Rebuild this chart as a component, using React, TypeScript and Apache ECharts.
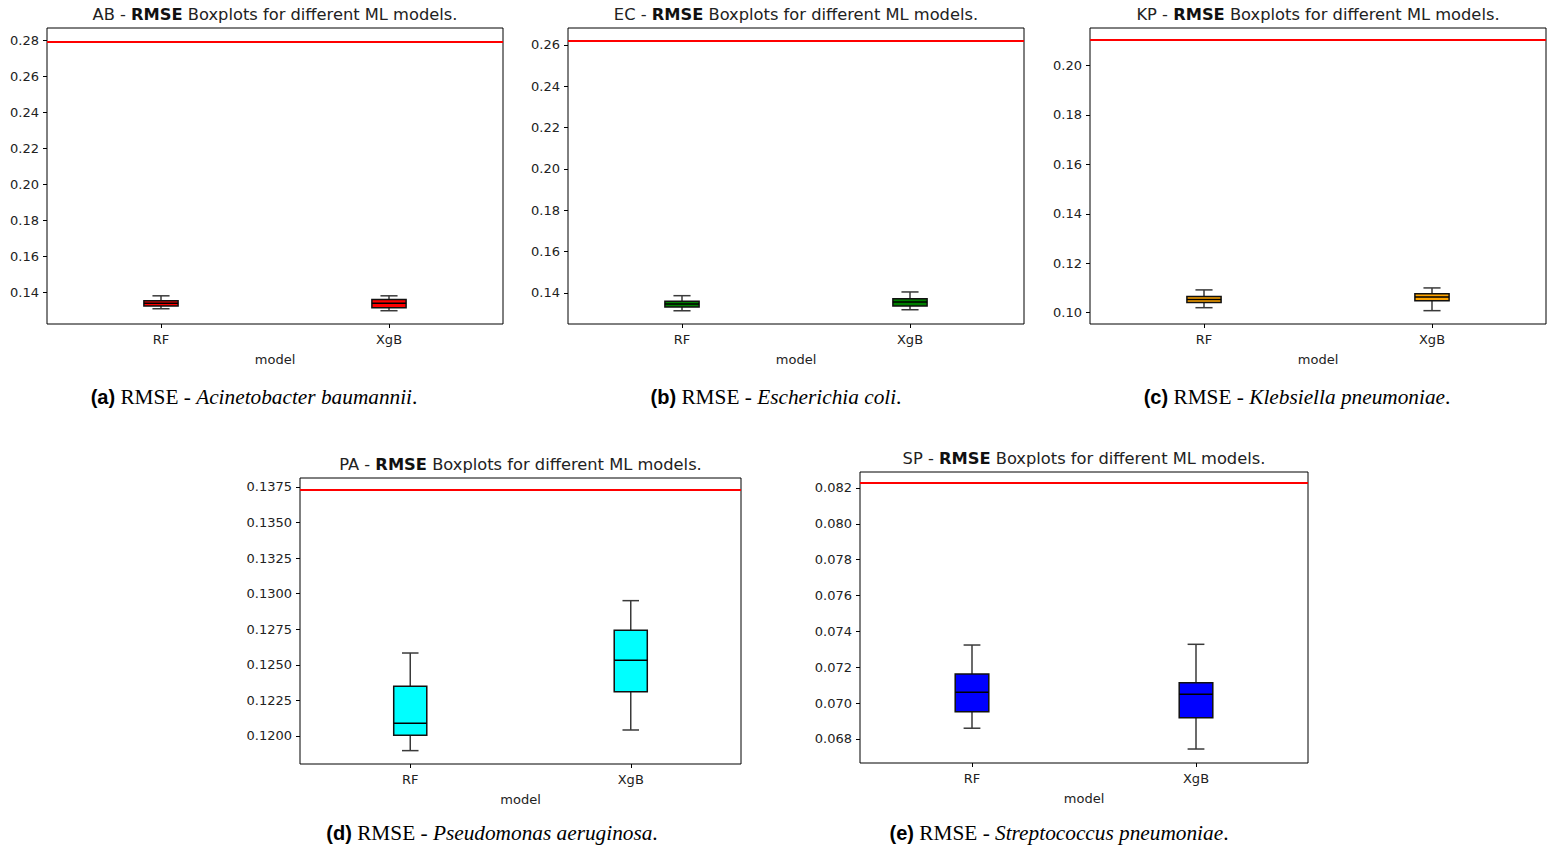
import React, { useEffect, useRef } from "react";
import * as echarts from "echarts";

// ---------- data ----------
const categories = ["RF", "XgB"];

const codes = ["AB", "EC", "KP", "PA", "SP"];
const captionLetters = ["(a)", "(b)", "(c)", "(d)", "(e)"];
const species = [
  "Acinetobacter baumannii",
  "Escherichia coli",
  "Klebsiella pneumoniae",
  "Pseudomonas aeruginosa",
  "Streptococcus pneumoniae",
];
const boxColors = ["#ff0000", "#008000", "#ffa500", "#00ffff", "#0000ff"];

// [whiskerLow, q1, median, q3, whiskerHigh]
const abRF = [0.1307, 0.1322, 0.1337, 0.1351, 0.1379];
const abXgB = [0.1296, 0.1312, 0.1337, 0.1359, 0.1379];
const ecRF = [0.1314, 0.1332, 0.1347, 0.136, 0.1387];
const ecXgB = [0.1319, 0.1337, 0.1356, 0.1372, 0.1405];
const kpRF = [0.102, 0.1041, 0.1053, 0.1065, 0.1092];
const kpXgB = [0.1008, 0.1048, 0.1063, 0.1076, 0.11];
const paRF = [0.11897, 0.12005, 0.12089, 0.12349, 0.12583];
const paXgB = [0.12042, 0.12311, 0.12532, 0.12743, 0.12951];
const spRF = [0.0686, 0.06952, 0.0706, 0.07163, 0.07324];
const spXgB = [0.06744, 0.06919, 0.07049, 0.07114, 0.07328];

const rfBoxes = [abRF, ecRF, kpRF, paRF, spRF];
const xgbBoxes = [abXgB, ecXgB, kpXgB, paXgB, spXgB];

// baseline (red line)
const baselines = [0.2797, 0.2619, 0.2104, 0.13729, 0.08228];

// y ranges
const yMins = [0.1222, 0.125, 0.0954, 0.11803, 0.06666];
const yMaxs = [0.2871, 0.2682, 0.2152, 0.13813, 0.08289];

// tick labels
const abTicks = [0.14, 0.16, 0.18, 0.2, 0.22, 0.24, 0.26, 0.28];
const ecTicks = [0.14, 0.16, 0.18, 0.2, 0.22, 0.24, 0.26];
const kpTicks = [0.1, 0.12, 0.14, 0.16, 0.18, 0.2];
const paTicks = [0.12, 0.1225, 0.125, 0.1275, 0.13, 0.1325, 0.135, 0.1375];
const spTicks = [0.068, 0.07, 0.072, 0.074, 0.076, 0.078, 0.08, 0.082];
const tickSets = [abTicks, ecTicks, kpTicks, paTicks, spTicks];
const tickDecimals = [2, 2, 2, 4, 3];

// ---------- layout ----------
const grids = [
  { left: 47, top: 28, width: 456, height: 296 },
  { left: 568, top: 28, width: 456, height: 296 },
  { left: 1090, top: 28, width: 456, height: 296 },
  { left: 300, top: 478, width: 441, height: 286 },
  { left: 860, top: 472, width: 448, height: 291 },
];
const captionPos = [
  [254, 397],
  [776, 397],
  [1297, 397],
  [492, 833],
  [1059, 833],
];

const SANS = "DejaVu Sans";
const SERIF = "Liberation Serif";

export default function App() {
  const ref = useRef<HTMLDivElement>(null);
  useEffect(() => {
    if (!ref.current) return;
    const chart = echarts.init(ref.current, null, { renderer: "svg" });

    const xAxis: any[] = [];
    const yAxis: any[] = [];
    const series: any[] = [];
    const graphic: any[] = [];

    grids.forEach((g, i) => {
      xAxis.push({
        type: "category",
        gridIndex: i,
        data: categories,
        boundaryGap: true,
        axisLine: { show: false },
        axisTick: { show: true, alignWithLabel: true, length: 4, lineStyle: { color: "#000", width: 1 } },
        axisLabel: { color: "#222", fontFamily: SANS, fontSize: 13, margin: 9 },
        splitLine: { show: false },
        name: "model",
        nameLocation: "middle",
        nameGap: 29,
        nameTextStyle: { color: "#222", fontFamily: SANS, fontSize: 13 },
      });
      const dec = tickDecimals[i];
      yAxis.push({
        type: "value",
        gridIndex: i,
        min: yMins[i],
        max: yMaxs[i],
        axisLine: { show: false },
        axisTick: {
          show: true,
          length: 4,
          customValues: tickSets[i],
          lineStyle: { color: "#000", width: 1 },
        },
        axisLabel: {
          color: "#222",
          fontFamily: SANS,
          fontSize: 13,
          margin: 8,
          customValues: tickSets[i],
          formatter: (v: number) => v.toFixed(dec),
        },
        splitLine: { show: false },
      });
      const color = boxColors[i];
      series.push({
        type: "custom",
        xAxisIndex: i,
        yAxisIndex: i,
        encode: { x: 0, y: [1, 2, 3, 4, 5] },
        data: [
          [0, ...rfBoxes[i]],
          [1, ...xgbBoxes[i]],
        ],
        renderItem: (params: any, api: any) => {
          const ci = api.value(0);
          const lo = api.coord([ci, api.value(1)]);
          const q1 = api.coord([ci, api.value(2)]);
          const md = api.coord([ci, api.value(3)]);
          const q3 = api.coord([ci, api.value(4)]);
          const hi = api.coord([ci, api.value(5)]);
          const band = api.size([1, 0])[0];
          const bw = band * 0.15;
          const cw = bw / 2;
          const x = lo[0];
          const wStyle = { stroke: "#3a3a3a", lineWidth: 1.5 };
          return {
            type: "group",
            children: [
              { type: "line", shape: { x1: x, y1: q3[1], x2: x, y2: hi[1] }, style: wStyle },
              { type: "line", shape: { x1: x, y1: lo[1], x2: x, y2: q1[1] }, style: wStyle },
              { type: "line", shape: { x1: x - cw / 2, y1: hi[1], x2: x + cw / 2, y2: hi[1] }, style: wStyle },
              { type: "line", shape: { x1: x - cw / 2, y1: lo[1], x2: x + cw / 2, y2: lo[1] }, style: wStyle },
              {
                type: "rect",
                shape: { x: x - bw / 2, y: q3[1], width: bw, height: q1[1] - q3[1] },
                style: { fill: color, stroke: "#111", lineWidth: 1.5 },
              },
              {
                type: "line",
                shape: { x1: x - bw / 2, y1: md[1], x2: x + bw / 2, y2: md[1] },
                style: { stroke: "#000", lineWidth: 1.5 },
              },
            ],
          };
        },
        markLine: {
          silent: true,
          symbol: "none",
          precision: 6,
          label: { show: false },
          lineStyle: { color: "#ff0000", width: 2, type: "solid" },
          data: [{ yAxis: baselines[i] }],
        },
        z: 3,
      });

      // title
      graphic.push({
        type: "text",
        x: g.left + g.width / 2,
        y: g.top - 14,
        style: {
          text: `{n|${codes[i]} - }{b|RMSE}{n| Boxplots for different ML models.}`,
          align: "center",
          verticalAlign: "middle",
          textAlign: "center",
          textVerticalAlign: "middle",
          rich: {
            n: { fontFamily: SANS, fontSize: 16.3, fill: "#222", color: "#222" },
            b: { fontFamily: SANS, fontSize: 16.3, fontWeight: "bold", fill: "#111", color: "#111" },
          },
        },
      });
      // caption
      const [cx, cy] = captionPos[i];
      graphic.push({
        type: "text",
        x: cx,
        y: cy,
        style: {
          text: `{l|${captionLetters[i]}}{n| RMSE - }{it|${species[i]}}{n|.}`,
          align: "center",
          verticalAlign: "middle",
          textAlign: "center",
          textVerticalAlign: "middle",
          rich: {
            l: { fontFamily: "Liberation Sans", fontWeight: "bold", fontSize: 20, color: "#000", fill: "#000" },
            n: { fontFamily: SERIF, fontSize: 21.3, color: "#000", fill: "#000" },
            it: { fontFamily: SERIF, fontStyle: "italic", fontSize: 21.3, color: "#000", fill: "#000" },
          },
        },
      });
    });

    chart.setOption({
      animation: false,
      backgroundColor: "#ffffff",
      grid: grids.map((g) => ({
        ...g,
        show: true,
        borderColor: "#000",
        borderWidth: 1,
        backgroundColor: "transparent",
        containLabel: false,
      })),
      xAxis,
      yAxis,
      series,
      graphic,
    });
    return () => chart.dispose();
  }, []);

  return (
    <div
      ref={ref}
      style={{ position: "absolute", left: 0, top: 0, width: 1556, height: 852 }}
    />
  );
}
